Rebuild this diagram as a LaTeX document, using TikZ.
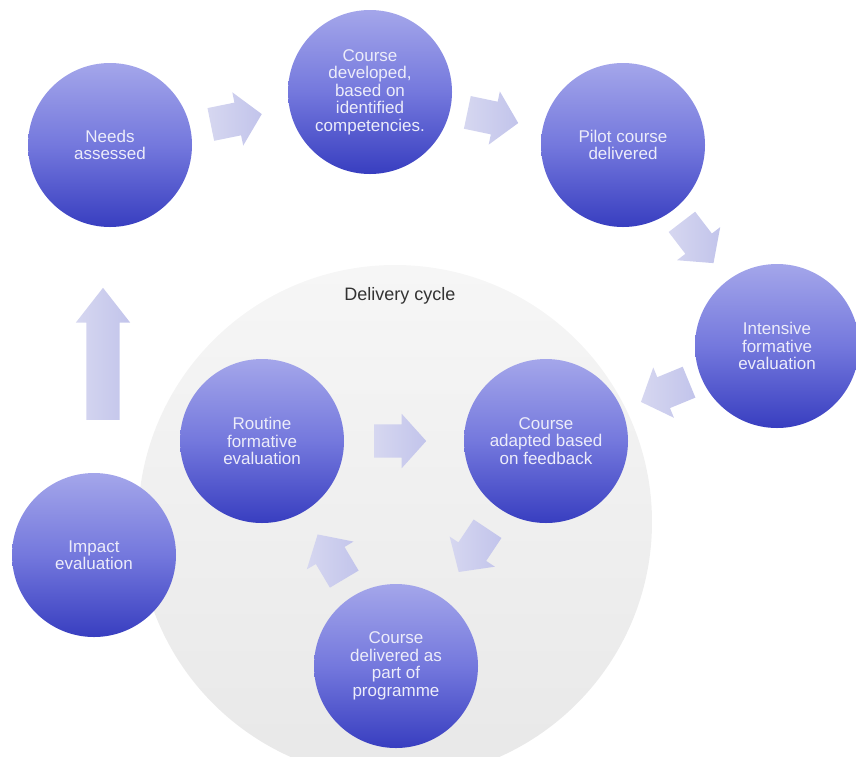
\documentclass[tikz,border=0pt]{standalone}
\usepackage{fontspec}
\setmainfont{Liberation Sans}
\usetikzlibrary{shapes.arrows, calc}
\definecolor{ballTop}{RGB}{164,166,234}
\definecolor{ballMid}{RGB}{116,120,221}
\definecolor{ballBot}{RGB}{56,62,192}
\definecolor{ballText}{RGB}{236,236,250}
\definecolor{arrTail}{RGB}{214,215,240}
\definecolor{arrTip}{RGB}{194,196,235}
\definecolor{cycleTop}{RGB}{246,246,246}
\definecolor{cycleBot}{RGB}{232,232,232}

\begin{document}
\begin{tikzpicture}[x=1pt, y=-1pt,
ball/.style={circle, minimum size=164pt, inner sep=0pt, top color=ballTop, bottom color=ballBot, middle color=ballMid, text=ballText, align=center, font=\fontsize{17}{17.5}\selectfont},
arrowbody/.style={single arrow, single arrow head extend=10.5pt, single arrow tip angle=96, inner xsep=0pt, inner ysep=16.5pt, minimum height=52pt, left color=arrTail, right color=arrTip},
blockarrow/.style={arrowbody, sloped, allow upside down, anchor=tail, xshift=-30pt}]
\useasboundingbox (0,0) rectangle (856,756);
\node [circle, minimum size=514pt, top color=cycleTop, bottom color=cycleBot] (cycle) at (395,522) {};
\node [font=\fontsize{18}{20}\selectfont, text=black!80] (cyclelabel) at (400,296) {Delivery cycle};

\node [ball] (needs) at (110,145) {Needs\\assessed};
\node [ball] (develop) at (370,92) {Course\\developed,\\based on\\identified\\competencies.};
\node [ball] (pilot) at (623,145) {Pilot course\\delivered};
\node [ball] (intensive) at (777,346) {Intensive\\formative\\evaluation};
\node [ball] (adapted) at (546,441) {Course\\adapted based\\on feedback};
\node [ball] (routine) at (262,441) {Routine\\formative\\evaluation};
\node [ball] (impact) at (94,555) {Impact\\evaluation};
\node [ball] (delivered) at (396,666) {Course\\delivered as\\part of\\programme};

\path (needs) -- node [blockarrow] (a1) {} (develop);
\path (develop) -- node [blockarrow] (a2) {} (pilot);
\path (pilot) -- node [blockarrow] (a3) {} (intensive);
\path (intensive) -- node [blockarrow] (a4) {} (adapted);
\path (routine) -- node [blockarrow] (a5) {} (adapted);
\path (adapted) -- node [blockarrow] (a6) {} (delivered);
\path (delivered) -- node [blockarrow] (a7) {} (routine);
\node [arrowbody, single arrow tip angle=76, rotate=90, anchor=tail, minimum height=132pt] (a8) at (103,420) {};
\end{tikzpicture}
\end{document}
